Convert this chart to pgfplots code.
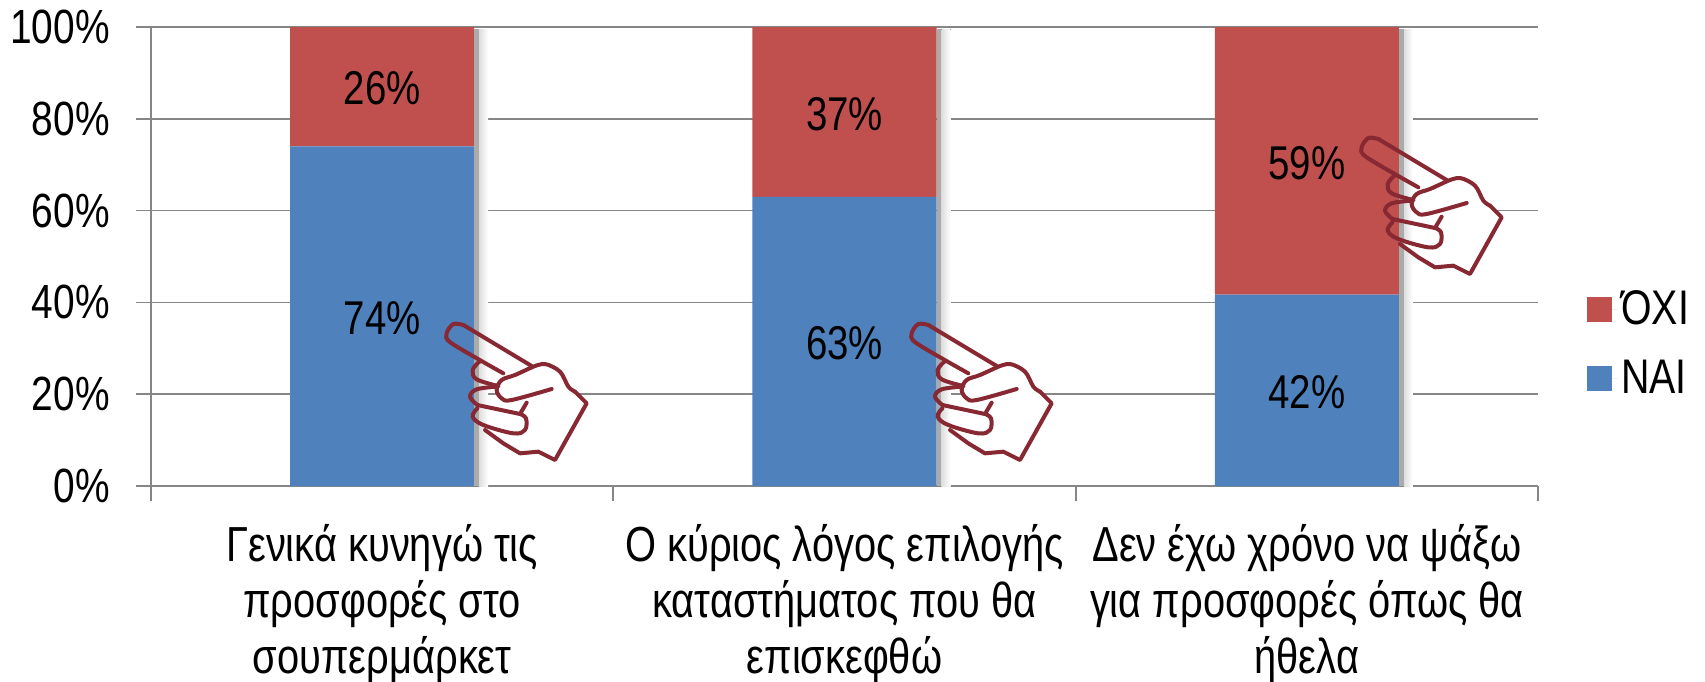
\documentclass[border=0pt]{standalone}
\usepackage{fontspec}
\setmainfont[FakeStretch=0.81]{Liberation Sans}
\usepackage{pgfplots}
\usepackage{pgfplotstable}
\pgfplotsset{compat=1.18}
\definecolor{barblue}{RGB}{79,129,189}
\definecolor{barred}{RGB}{192,80,77}
\definecolor{axisgray}{RGB}{134,134,134}
\definecolor{handred}{RGB}{135,40,50}
\pgfplotstableread{
x y lab
0.5 74 74
1.5 63 63
2.5 41.7 42
}\nai
\pgfplotstableread{
x y lab
0.5 26 26
1.5 37 37
2.5 58.3 59
}\ochi
\newcommand{\barshadow}[1]{%
  \fill[black!33] (axis cs:#1+0.199,0) rectangle (axis cs:#1+0.2098,99.5);
  \fill[left color=black!13,right color=white] (axis cs:#1+0.2098,0) rectangle (axis cs:#1+0.2293,99.5);
}
\newcommand{\hand}[2]{%
\begin{scope}[shift={(#1,#2)},x=0.16667pt,y=-0.16667pt,line width=2pt,draw=handred,line cap=round,line join=round]
  \fill[white] (250,270) -- (335,228) -- (375,222) -- (420,245) -- (445,290) -- (465,305) -- (500,340) -- (405,510) -- (355,485) -- (300,490) -- (250,460) -- (195,420) -- (280,430) -- (315,420) -- (318,385) -- (300,370) -- (320,335) -- (240,325) -- (230,300) -- cycle;
  \draw plot[smooth,tension=0.5] coordinates {(250,250) (95,160) (80,130) (100,102) (130,105)};
  \draw (130,105) -- (335,228);
  \draw plot[smooth,tension=0.55] coordinates {(335,232) (375,222) (420,245) (445,290) (465,305)};
  \draw (465,305) -- (500,340) -- (405,510) -- (355,485) -- (300,490) -- (250,460) -- (195,420);
  \draw plot[smooth,tension=0.6] coordinates {(335,232) (285,255) (245,270) (230,300) (245,325) (275,330) (395,297)};
  \draw plot[smooth,tension=0.6] coordinates {(178,215) (158,240) (170,268) (235,288)};
  \draw plot[smooth,tension=0.6] coordinates {(230,290) (170,298) (150,320) (172,345)};
  \draw (172,345) -- (300,372) -- (320,338);
  \draw plot[smooth,tension=0.6] coordinates {(172,355) (158,380) (190,405) (280,430) (315,420) (318,385) (300,372)};
\end{scope}}
\begin{document}
\begin{tikzpicture}
\useasboundingbox (-75.5pt,-97.5pt) rectangle (777pt,243pt);
\begin{axis}[
  scale only axis,
  width=693.5pt, height=229.5pt,
  at={(0,0)}, anchor=south west,
  ybar stacked,
  xmin=0, xmax=3, ymin=0, ymax=100,
  bar width=92pt,
  axis x line=bottom, axis y line=left,
  axis line style={axisgray,line width=0.85pt,-},
  xtick={0,1,2,3}, xticklabels={},
  extra x ticks={0.5,1.5,2.5},
  extra x tick labels={{Γενικά κυνηγώ τις\\προσφορές στο\\σουπερμάρκετ},{Ο κύριος λόγος επιλογής\\καταστήματος που θα\\επισκεφθώ},{Δεν έχω χρόνο να ψάξω\\για προσφορές όπως θα\\ήθελα}},
  extra x tick style={major tick length=0pt, tick style={draw=none},
     xticklabel style={align=center,font=\fontsize{24.6}{28}\selectfont,anchor=north,inner sep=0pt,yshift=-19pt,text depth=0pt}},
  ytick={0,20,40,60,80,100},
  yticklabel={\pgfmathprintnumber{\tick}\%},
  yticklabel style={font=\fontsize{24}{28}\selectfont,/pgf/number format/assume math mode=true,inner sep=0pt,xshift=-13pt},
  tick align=outside, major tick length=7.5pt,
  tick style={axisgray,line width=0.85pt},
  ymajorgrids, grid style={axisgray,line width=0.85pt},
  clip=false,
  legend style={at={(1.0735,0.31)},anchor=center,draw=none,fill=none,font=\fontsize{24.3}{28}\selectfont,row sep=12pt,
     /tikz/every even column/.append style={column sep=0pt}},
  reverse legend,
  legend cell align=left,
  legend image code/.code={\fill[#1] (0pt,-6.25pt) rectangle (12.5pt,6.25pt);\path (0pt,0pt) -- (15.2pt,0pt);},
  /pgf/number format/assume math mode=true,
  nodes near coords={\pgfmathprintnumber{\pgfplotspointmeta}\%},
  every node near coord/.append style={font=\fontsize{23.7}{28}\selectfont,text=black,anchor=center,yshift=-1pt},
  point meta=\thisrow{lab},
]
\barshadow{0.5}
\barshadow{1.5}
\barshadow{2.5}
\addplot[draw=none,fill=barblue] table[x=x,y=y] {\nai};
\addplot[draw=none,fill=barred] table[x=x,y=y] {\ochi};
\legend{ΝΑΙ,ΌΧΙ}
\end{axis}
\hand{134.5pt}{98pt}
\hand{367pt}{98pt}
\hand{592pt}{191pt}
\end{tikzpicture}
\end{document}
